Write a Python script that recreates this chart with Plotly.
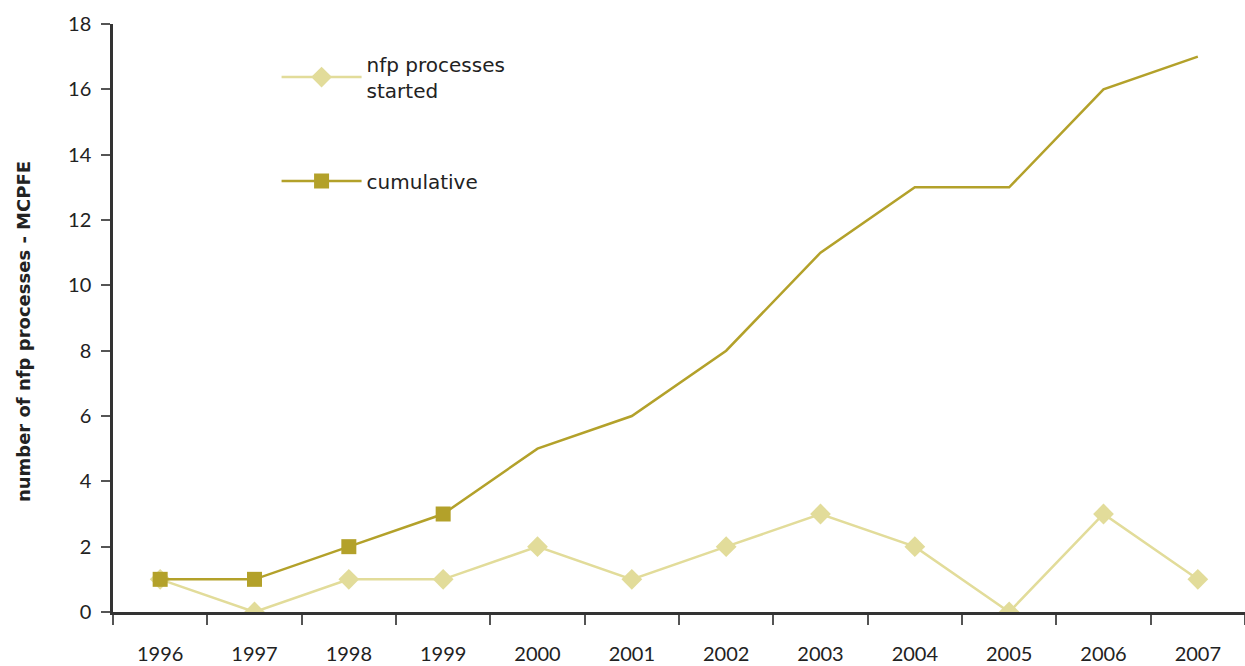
import plotly.graph_objects as go

years = ["1996", "1997", "1998", "1999", "2000", "2001",
         "2002", "2003", "2004", "2005", "2006", "2007"]
started = [1, 0, 1, 1, 2, 1, 2, 3, 2, 0, 3, 1]
cumulative = [1, 1, 2, 3, 5, 6, 8, 11, 13, 13, 16, 17]
y_ticks = [0, 2, 4, 6, 8, 10, 12, 14, 16, 18]

LIGHT = "#E2DC9A"
DARK = "#B3A12A"
FONT = "Lato, 'DejaVu Sans', sans-serif"
WIDE_FONT = "'DejaVu Sans', sans-serif"

# square markers are only shown for the first four years
cum_marker_colors = [DARK if i < 4 else "rgba(0,0,0,0)" for i in range(len(years))]

fig = go.Figure()
fig.add_trace(go.Scatter(
    x=years, y=started, name="nfp processes<br>started",
    mode="lines+markers",
    line=dict(color=LIGHT, width=2.5),
    marker=dict(symbol="diamond", size=16, color=LIGHT),
    legend="legend",
))
fig.add_trace(go.Scatter(
    x=years, y=cumulative, name="cumulative",
    mode="lines+markers",
    line=dict(color=DARK, width=2.5),
    marker=dict(symbol="square", size=15, color=cum_marker_colors),
    legend="legend2",
))

legend_common = dict(xanchor="left", yanchor="top", bgcolor="rgba(0,0,0,0)",
                     itemwidth=80,
                     font=dict(family=WIDE_FONT, size=20, color="#222222"))
fig.update_layout(
    width=1245, height=666,
    margin=dict(l=113, r=0, t=24, b=54),
    paper_bgcolor="white", plot_bgcolor="white",
    font=dict(family=FONT, size=20, color="#222222"),
    showlegend=True,
    legend=dict(x=0.1445, y=0.965, **legend_common),
    legend2=dict(x=0.1445, y=0.766, **legend_common),
    annotations=[dict(
        text="<b>number of nfp processes - MCPFE</b>",
        xref="paper", yref="paper", x=-0.0795, y=0.476,
        xanchor="center", yanchor="middle", textangle=-90,
        showarrow=False,
        font=dict(family=WIDE_FONT, size=18, color="#222222"),
    )],
)
fig.update_xaxes(
    type="category", categoryorder="array", categoryarray=years,
    range=[-0.5, 11.5],
    tickson="boundaries", ticks="outside", ticklen=10, tickwidth=1.5,
    tickcolor="#555555",
    showline=True, linecolor="#333333", linewidth=2.5,
    showgrid=False, zeroline=False,
    tickfont=dict(size=20), ticklabelstandoff=22,
)
fig.update_yaxes(
    range=[0, 18], tickvals=y_ticks,
    ticks="outside", ticklen=9, tickwidth=1.5, tickcolor="#555555",
    showline=True, linecolor="#333333", linewidth=2.5,
    showgrid=False, zeroline=False,
    tickfont=dict(size=20), ticklabelstandoff=6,
)

fig.write_html("out.html")
